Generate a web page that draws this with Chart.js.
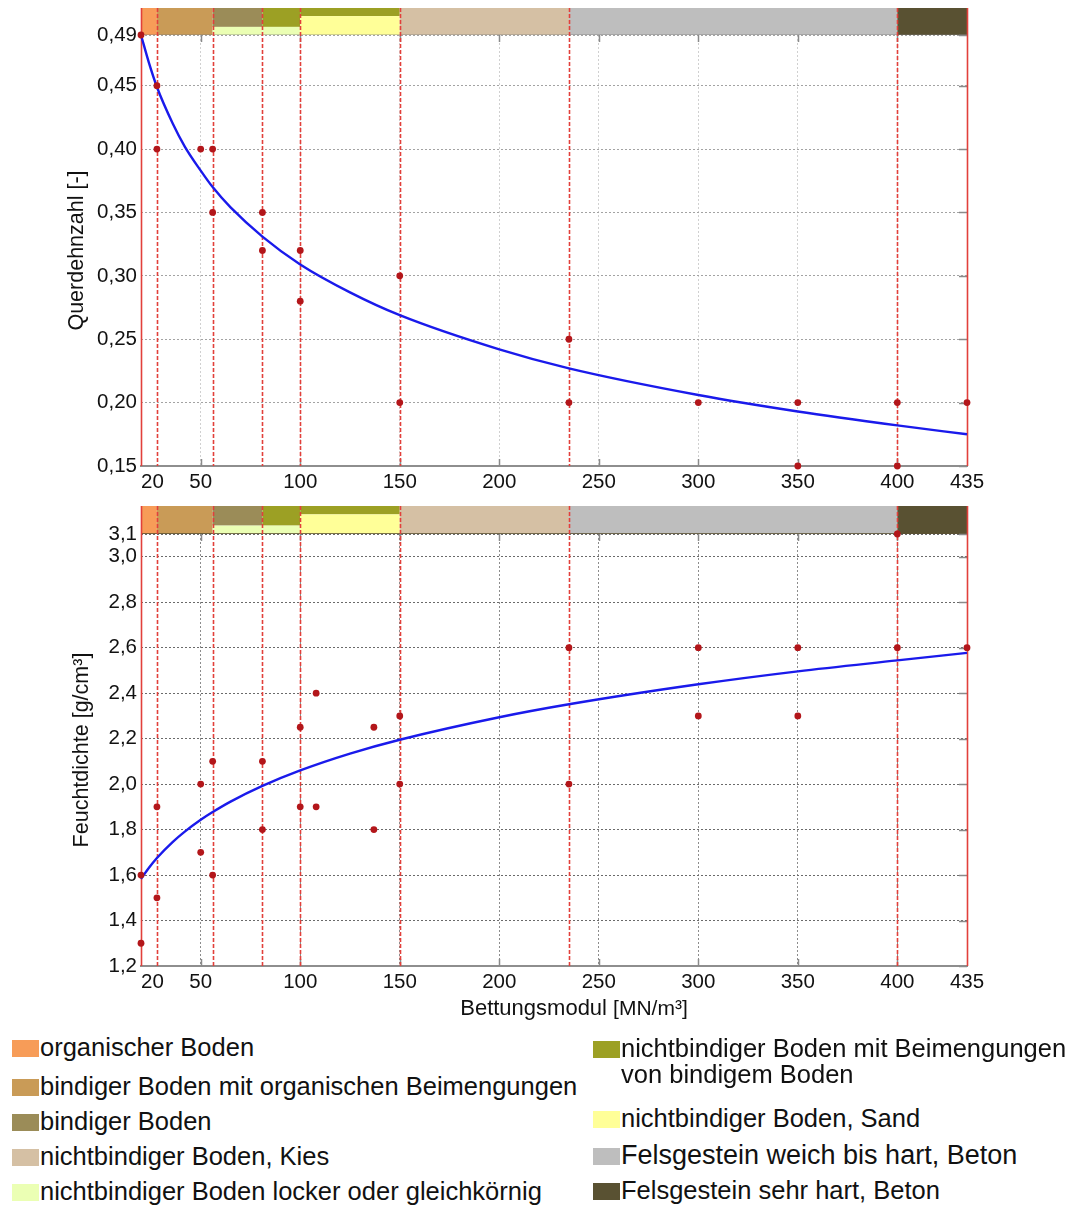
<!DOCTYPE html>
<html>
<head>
<meta charset="utf-8">
<title>Bettungsmodul – Querdehnzahl und Feuchtdichte</title>
<script src="https://cdn.jsdelivr.net/npm/chart.js@4.4.1/dist/chart.umd.min.js"></script>
<style>
  html, body { margin: 0; padding: 0; background: #fff; }
  body {
    width: 1075px; height: 1205px; position: relative; overflow: hidden;
    font-family: "Liberation Sans", Arial, sans-serif; color: #111;
  }
  canvas { position: absolute; left: 0; }
  #poissonChart { top: 0; }
  #densityChart { top: 495px; }
  #xTitle {
    position: absolute; top: 995px; left: 574px; transform: translateX(-50%);
    white-space: nowrap; font-size: 22px; line-height: 26px;
  }
  #xTitle .unit { font-size: 21px; }
  .item { position: absolute; white-space: nowrap; font-size: 25.5px; line-height: 26px; }
  .item.wide { font-size: 27px; }
  .swatch { position: absolute; width: 27px; height: 17px; }
</style>
</head>
<body>
<canvas id="poissonChart" width="1075" height="500"></canvas>
<canvas id="densityChart" width="1075" height="535"></canvas>
<div id="xTitle">Bettungsmodul <span class="unit">[MN/m³]</span></div>
<div id="legend"></div>

<script>
// ---- data ----------------------------------------------------------------
const xTickValues = [20, 50, 100, 150, 200, 250, 300, 350, 400, 435];
const poissonTickValues = [0.15, 0.20, 0.25, 0.30, 0.35, 0.40, 0.45, 0.49];
const densityTickValues = [1.2, 1.4, 1.6, 1.8, 2.0, 2.2, 2.4, 2.6, 2.8, 3.0, 3.1];

// zone boundaries of the soil classes [MN/m³]
const zoneBounds = [20, 28, 56, 81, 100, 150, 235, 400, 435];

// measured Querdehnzahl values
const poissonX = [20, 28, 28, 50, 56, 56, 81, 81, 100, 100, 150, 150, 235, 235, 300, 350, 350, 400, 400, 435];
const poissonY = [0.49, 0.45, 0.40, 0.40, 0.40, 0.35, 0.35, 0.32, 0.32, 0.28, 0.30, 0.20, 0.25, 0.20, 0.20, 0.20, 0.15, 0.20, 0.15, 0.20];

// fitted Querdehnzahl curve
const poissonFitX = [20, 24, 28, 36, 42, 50, 56, 65, 81, 100, 125, 150, 200, 235, 300, 350, 400, 435];
const poissonFitY = [0.490, 0.468, 0.449, 0.420, 0.402, 0.383, 0.370, 0.354, 0.331, 0.309, 0.287, 0.269, 0.242, 0.227, 0.206, 0.193, 0.182, 0.175];

// measured Feuchtdichte values
const densityX = [20, 20, 28, 28, 50, 50, 56, 56, 81, 81, 100, 100, 108, 108, 137, 137, 150, 150, 235, 235, 300, 300, 350, 350, 400, 400, 435];
const densityY = [1.6, 1.3, 1.9, 1.5, 2.0, 1.7, 2.1, 1.6, 2.1, 1.8, 2.25, 1.9, 2.4, 1.9, 2.25, 1.8, 2.3, 2.0, 2.6, 2.0, 2.6, 2.3, 2.6, 2.3, 2.6, 3.1, 2.6];

// fitted Feuchtdichte curve
const densityFitX = [20, 24, 28, 36, 42, 50, 56, 65, 81, 100, 125, 150, 200, 235, 300, 350, 400, 435];
const densityFitY = [1.583, 1.632, 1.675, 1.746, 1.791, 1.843, 1.877, 1.923, 1.992, 2.060, 2.134, 2.195, 2.294, 2.351, 2.439, 2.496, 2.544, 2.577];

// soil classes
const soilNames = [
  'organischer Boden',
  'bindiger Boden mit organischen Beimengungen',
  'bindiger Boden',
  'nichtbindiger Boden, Kies',
  'nichtbindiger Boden locker oder gleichkörnig',
  'nichtbindiger Boden mit Beimengungen\nvon bindigem Boden',
  'nichtbindiger Boden, Sand',
  'Felsgestein weich bis hart, Beton',
  'Felsgestein sehr hart, Beton'
];
const soilColors = ['#F79C58', '#C99B57', '#9B8C58', '#D5C0A4', '#EBFFB4', '#9CA024', '#FFFF98', '#BEBEBE', '#595132'];

// soil class ranges shown in the band above each plot
const bandFrom = [20, 28, 56, 56, 81, 81, 100, 100, 150, 235, 400];
const bandTo   = [28, 56, 81, 81, 100, 100, 150, 150, 235, 400, 435];
const bandSoil = [0, 1, 2, 4, 5, 4, 5, 6, 3, 7, 8];

// ---- band layer layout (fraction of band height) ---------------------------
const bandLayerTop    = [0, 0, 0, 0.7, 0, 0.7, 0, 0.3, 0, 0, 0];
const bandLayerBottom = [1, 1, 0.7, 1, 0.7, 1, 0.3, 1, 1, 1, 1];

const FONT = '"Liberation Sans", Arial, sans-serif';
const toXY = (xs, ys) => xs.map((x, i) => ({ x, y: ys[i] }));

// soil band, zone boundaries and inward tick marks
const soilZonesPlugin = {
  id: 'soilZones',
  beforeDatasetsDraw(chart, _args, opts) {
    const { ctx, chartArea: a, scales: { x, y } } = chart;
    const h = opts.bandHeight;
    const top = a.top - h;
    ctx.save();

    bandFrom.forEach((from, i) => {
      const x0 = x.getPixelForValue(from);
      const x1 = x.getPixelForValue(bandTo[i]);
      const y0 = top + bandLayerTop[i] * h;
      const y1 = top + bandLayerBottom[i] * h;
      ctx.fillStyle = soilColors[bandSoil[i]];
      ctx.fillRect(x0, y0, x1 - x0, y1 - y0);
    });
    ctx.fillStyle = opts.bandEdge;
    ctx.fillRect(a.left, a.top - 1, a.right - a.left, 1);

    // short tick marks pointing into the plot
    ctx.strokeStyle = '#8a8a8a';
    ctx.lineWidth = 1.5;
    ctx.beginPath();
    xTickValues.slice(1, -1).forEach(v => {
      const px = Math.round(x.getPixelForValue(v)) + 0.5;
      ctx.moveTo(px, a.bottom); ctx.lineTo(px, a.bottom - 7);
      ctx.moveTo(px, a.top); ctx.lineTo(px, a.top + 7);
    });
    y.ticks.forEach(t => {
      const py = Math.round(y.getPixelForValue(t.value)) + 0.5;
      ctx.moveTo(a.right, py); ctx.lineTo(a.right - 8, py);
    });
    ctx.stroke();

    // soil class boundaries
    ctx.strokeStyle = '#E2403B';
    ctx.lineWidth = 1.6;
    zoneBounds.forEach((v, i) => {
      const px = Math.round(x.getPixelForValue(v)) + 0.5;
      const edge = i === 0 || i === zoneBounds.length - 1;
      ctx.setLineDash(edge ? [] : [4, 2]);
      ctx.beginPath();
      ctx.moveTo(px, top);
      ctx.lineTo(px, a.bottom);
      ctx.stroke();
    });
    ctx.restore();
  }
};

function buildChart(id, cfg) {
  const xLabels = xTickValues.map(String);
  return new Chart(document.getElementById(id), {
    type: 'scatter',
    data: {
      datasets: [
        {
          data: toXY(cfg.pointsX, cfg.pointsY),
          showLine: false,
          pointRadius: 3.4,
          pointBackgroundColor: '#B3161A',
          pointBorderColor: '#B3161A',
          pointBorderWidth: 0,
          clip: false
        },
        {
          data: toXY(cfg.fitX, cfg.fitY),
          showLine: true,
          pointRadius: 0,
          borderColor: '#1A1AEB',
          borderWidth: 2.4,
          cubicInterpolationMode: 'monotone',
          clip: false
        }
      ]
    },
    plugins: [soilZonesPlugin],
    options: {
      responsive: false,
      animation: false,
      events: [],
      layout: { padding: { top: cfg.padTop, right: 108, left: 0, bottom: 0 } },
      plugins: {
        legend: { display: false },
        tooltip: { enabled: false },
        soilZones: { bandHeight: cfg.bandHeight, bandEdge: cfg.bandEdge }
      },
      scales: {
        x: {
          type: 'linear',
          min: 20,
          max: 435,
          afterBuildTicks: s => {
            // the trailing blank tick keeps "435" centred under its position
            s.ticks = xTickValues.concat([435]).map(v => ({ value: v }));
          },
          afterFit: s => { s.height = cfg.xHeight; },
          ticks: {
            autoSkip: false,
            maxRotation: 0,
            align: 'inner',
            padding: 4,
            color: '#111',
            font: { family: FONT, size: 20.5 },
            callback: (v, i) => (i < xLabels.length ? xLabels[i] : '')
          },
          grid: { color: cfg.xGrid, lineWidth: 1, drawTicks: false },
          border: { display: true, color: '#8e8e8e', width: 2, dash: [2, 2] }
        },
        y: {
          type: 'linear',
          min: cfg.yTicks[0],
          max: cfg.yTicks[cfg.yTicks.length - 1],
          afterBuildTicks: s => { s.ticks = cfg.yTicks.map(v => ({ value: v })); },
          afterFit: s => { s.width = 141; },
          ticks: {
            autoSkip: false,
            padding: 4,
            color: '#111',
            font: { family: FONT, size: 20.5 },
            callback: v => v.toFixed(cfg.decimals).replace('.', ',')
          },
          grid: { color: cfg.yGrid, lineWidth: 1, drawTicks: false },
          border: { display: false, dash: [2, 2] },
          title: {
            display: true,
            text: cfg.yTitle,
            color: '#111',
            font: { family: FONT, size: 21.5 },
            padding: { top: cfg.yTitleOffset, bottom: 0 }
          }
        }
      }
    }
  });
}

buildChart('poissonChart', {
  pointsX: poissonX, pointsY: poissonY,
  fitX: poissonFitX, fitY: poissonFitY,
  yTicks: poissonTickValues, decimals: 2,
  yTitle: 'Querdehnzahl [-]', yTitleOffset: 64,
  padTop: 35, xHeight: 34, bandHeight: 27,
  xGrid: '#d0d0d0', yGrid: '#a3a3a3', bandEdge: 'rgba(120,120,120,0.35)'
});

buildChart('densityChart', {
  pointsX: densityX, pointsY: densityY,
  fitX: densityFitX, fitY: densityFitY,
  yTicks: densityTickValues, decimals: 1,
  yTitle: 'Feuchtdichte [g/cm³]', yTitleOffset: 69,
  padTop: 39, xHeight: 64, bandHeight: 28,
  xGrid: '#8c8c8c', yGrid: '#6a6a6a', bandEdge: 'rgba(90,80,50,0.8)'
});

// ---- legend ----------------------------------------------------------------
const legendOrder = [
  { soil: 0, left: 12, top: 1034 },
  { soil: 1, left: 12, top: 1073 },
  { soil: 2, left: 12, top: 1108 },
  { soil: 3, left: 12, top: 1143 },
  { soil: 4, left: 12, top: 1178 },
  { soil: 5, left: 593, top: 1035 },
  { soil: 6, left: 593, top: 1105 },
  { soil: 7, left: 593, top: 1142, wide: true },
  { soil: 8, left: 593, top: 1177 }
];
const legend = document.getElementById('legend');
legendOrder.forEach(it => {
  const sw = document.createElement('div');
  sw.className = 'swatch';
  sw.style.left = it.left + 'px';
  sw.style.top = (it.top + 6) + 'px';
  sw.style.background = soilColors[it.soil];
  legend.appendChild(sw);
  const tx = document.createElement('div');
  tx.className = 'item' + (it.wide ? ' wide' : '');
  tx.style.left = (it.left + 28) + 'px';
  tx.style.top = it.top + 'px';
  tx.innerHTML = soilNames[it.soil].split('\n').join('<br>');
  legend.appendChild(tx);
});
</script>
</body>
</html>
